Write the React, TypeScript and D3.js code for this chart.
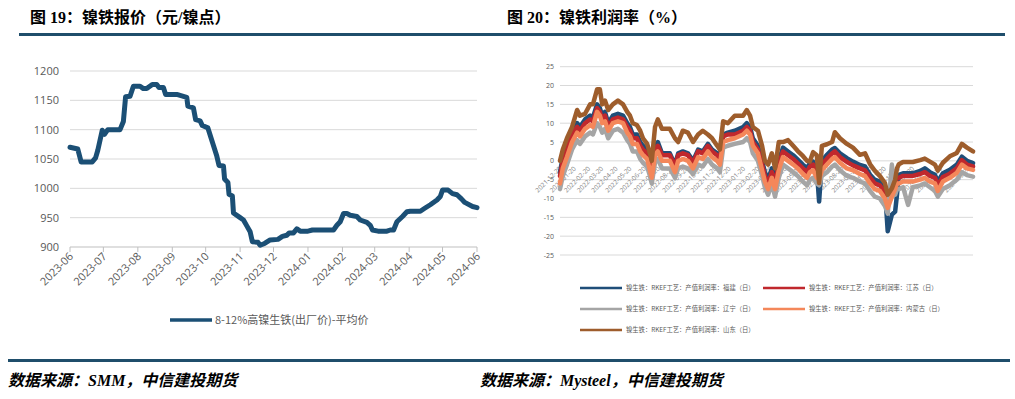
import React from "react";
import * as d3 from "d3";

// ---------- Left chart data: 8-12%高镍生铁(出厂价)-平均价 ----------
const priceDates = [
  "2023-06-01","2023-06-08","2023-06-11","2023-06-21","2023-06-24","2023-06-26","2023-06-30","2023-07-02","2023-07-05","2023-07-16",
  "2023-07-19","2023-07-21","2023-07-25","2023-07-28","2023-08-03","2023-08-06","2023-08-09","2023-08-14","2023-08-18","2023-08-20",
  "2023-08-24","2023-08-26","2023-09-05","2023-09-14","2023-09-15","2023-09-20","2023-09-22","2023-09-26","2023-09-28","2023-10-03",
  "2023-10-08","2023-10-11","2023-10-13","2023-10-17","2023-10-18","2023-10-21","2023-10-22","2023-10-25","2023-10-26","2023-11-01",
  "2023-11-04","2023-11-07","2023-11-10","2023-11-12","2023-11-17","2023-11-19","2023-11-23","2023-11-28","2023-12-05","2023-12-09",
  "2023-12-13","2023-12-15","2023-12-19","2023-12-22","2023-12-25","2024-01-01","2024-01-05","2024-01-24","2024-01-27","2024-01-30",
  "2024-02-02","2024-02-05","2024-02-08","2024-02-14","2024-02-17","2024-02-23","2024-02-26","2024-02-28","2024-03-04","2024-03-12",
  "2024-03-15","2024-03-18","2024-03-21","2024-03-26","2024-03-30","2024-04-02","2024-04-11","2024-04-15","2024-04-20","2024-04-26",
  "2024-04-29","2024-05-01","2024-05-06","2024-05-10","2024-05-14","2024-05-18","2024-05-21","2024-05-28","2024-06-01"
];
const priceValues = [
  1070,1067,1045,1045,1052,1065,1099,1092,1100,1100,
  1114,1156,1157,1174,1174,1170,1170,1177,1177,1172,
  1172,1160,1160,1155,1140,1137,1117,1115,1107,1103,
  1073,1055,1039,1038,1016,1010,990,987,958,950,
  946,936,926,909,908,903,906,912,913,918,
  920,924,924,931,927,927,929,929,937,943,
  957,957,954,952,946,942,937,929,927,927,
  929,929,943,952,960,961,961,966,972,980,
  986,997,997,991,989,982,976,969,967
];
const leftYTicks = [900, 950, 1000, 1050, 1100, 1150, 1200];
const leftXTicks = ["2023-06","2023-07","2023-08","2023-09","2023-10","2023-11","2023-12","2024-01","2024-02","2024-03","2024-04","2024-05","2024-06"];
const leftLegend = "8-12%高镍生铁(出厂价)-平均价";

// ---------- Right chart data: 镍生铁 RKEF工艺 产值利润率 ----------
const profitDates = [
  "2021-12-20","2021-12-26","2022-01-04","2022-01-15","2022-01-26","2022-02-01","2022-02-12","2022-02-23","2022-03-01","2022-03-10",
  "2022-03-16","2022-03-21","2022-03-27","2022-04-03","2022-04-13","2022-04-24","2022-05-05","2022-05-14","2022-05-20","2022-05-26",
  "2022-06-04","2022-06-11","2022-06-17","2022-06-26","2022-07-02","2022-07-06","2022-07-13","2022-07-19","2022-07-28","2022-08-14",
  "2022-08-25","2022-09-01","2022-09-11","2022-09-22","2022-10-03","2022-10-14","2022-10-24","2022-11-04","2022-11-13","2022-11-24",
  "2022-11-30","2022-12-07","2022-12-17","2023-01-01","2023-01-19","2023-01-27","2023-02-03","2023-02-09","2023-02-20","2023-03-01",
  "2023-03-07","2023-03-14","2023-03-22","2023-03-29","2023-04-06","2023-04-15","2023-04-26","2023-05-07","2023-05-17","2023-05-28",
  "2023-06-06","2023-06-12","2023-06-19","2023-06-27","2023-07-02","2023-07-08","2023-07-19","2023-07-30","2023-08-05","2023-08-16",
  "2023-08-31","2023-09-13","2023-09-28","2023-10-09","2023-10-20","2023-10-30","2023-11-10","2023-11-21","2023-11-27","2023-12-06",
  "2023-12-13","2023-12-17","2023-12-21","2023-12-30","2024-01-10","2024-01-20","2024-02-05","2024-02-15","2024-02-26","2024-03-08",
  "2024-03-14","2024-03-25","2024-04-09","2024-04-24","2024-05-05","2024-05-16","2024-05-29"
];
const fujian = [
  -3,1,4,8,10,9,11,12,11.5,15,
  14,12,13,10,12,12.5,12,10,9,7,
  7,5,4,3,0,-2,4,5,2,2,
  -1,2,2.5,2,0,3,2.5,4.5,3,2,
  1,7,7.5,8,9,10,9,6,4,0,
  -3,-5,-2,-5,0,3.5,2.5,1.5,0.3,-1,
  -2,-0.6,-0.2,-2.4,-10.8,0,1.6,3,3.4,2,
  0.7,-0.2,-1.1,-1.5,-3.7,-5,-5.5,-7.3,-18.7,-14.3,
  -13.5,-9,-3.7,-3.3,-3.3,-3.3,-2.7,-2,-3,-3.7,
  -5.5,-3.3,-2.4,-1,1.1,0,-0.6
];
const jiangsu = [
  -4,0,3,7,9,8,10,11,10.5,14,
  13,11,12,9,11,11.5,11,9,8,6,
  6,4,3,2,-1,-3,3,4,1.5,1.5,
  -1.5,1.5,2,1.5,-0.5,2.5,2,4,2.5,1.5,
  0.5,6.5,7,7,8,9,8,5,3,-1,
  -4,-6,-3,-6,-1,2.5,1.5,0.5,-0.7,-2,
  -3,-1.5,-1,-3,-4,-1,0.6,2,2.5,1,
  -0.3,-1.2,-2,-2.5,-4.5,-6,-6.5,-8.5,-11,-8,
  -6,-4.5,-4.5,-4,-4,-4,-3.5,-3,-4,-4.5,
  -6.5,-4.3,-3.4,-2,0.2,-1,-1.5
];
const liaoning = [
  -7.5,-4,-1,3,5.5,4.5,6.5,7.5,7,10,
  9,7.5,8.5,6,8,8.5,7.5,5.5,4.5,2.5,
  2.5,0.5,-0.5,-1.5,-4,-6,-0.5,0.5,-2,-2,
  -4.5,-2,-1.5,-2,-3.5,-1,-1.5,0.5,-1,-2,
  -3,3.5,4,4.5,5,6,5,2,0,-4,
  -7,-9,-6,-9.5,-4.5,-1,-2,-3,-4,-5.5,
  -6.5,-5,-4.5,-6,-6.5,-4,-3,-1.5,-1,-2.5,
  -4,-4.5,-5.5,-6,-8,-9.5,-10,-12,-14,-1,
  -9,-7.5,-7.5,-7,-11.7,-7,-6.5,-6,-7,-8,
  -9.5,-7.5,-6.5,-5,-3,-3.8,-4.2
];
const neimenggu = [
  -6,-2,1,5,7.5,6.5,8.5,9.5,9,13,
  12,10,10.5,8,10,10.5,10,7.5,6.5,4.5,
  4.5,2.5,1.5,0.5,-2.5,-4.5,1.5,2.5,0,0,
  -3,0,0.5,0,-2,1,0.5,2.5,1,0,
  -1,5,5.5,6,7,8,7,4,2,-2.5,
  -5.5,-7.5,-4.5,-7.5,-2.5,1,0,-1,-2,-3.5,
  -4.5,-3,-2.5,-4.5,-5,-2.5,-1,0.5,1,-0.5,
  -2,-2.5,-3.5,-4,-6,-7.5,-8,-10,-12.5,-9.5,
  -7.5,-6,-6,-5.5,-5.5,-5.5,-5,-4.5,-5.5,-6,
  -8,-5.5,-4.5,-3.2,-1,-2,-2.4
];
const shandong = [
  0,3,6,9,13.5,12,12.5,15,15,19,
  19,15,16,13.5,15,16,15,13,12,10,
  9.5,8,6,4.5,2,0,9,11,8.5,8.5,
  6,5,8,7.5,5,7,8,7,6,4,
  3,10.5,10,12,12,13.5,12,9,8,4,
  0,-1,2,-2,5,5,5.5,4,2.6,1.3,
  0,-0.2,2.3,1.5,-5.9,4,4.4,5,7.6,6,
  4.5,3.5,1.6,2,-0.9,-2.6,-4,-5.9,-9,-7.3,
  -5,-2,-0.9,-0.3,-0.3,-0.3,0.2,0.6,-0.2,-1,
  -2.6,-0.5,1.2,2.1,4.5,3.5,2.5
];
const rightYTicks = [25, 20, 15, 10, 5, 0, -5, -10, -15, -20, -25];
const rightXTicks = [
  "2021-12-20","2022-01-20","2022-02-20","2022-03-20","2022-04-20","2022-05-20","2022-06-20","2022-07-20","2022-08-20","2022-09-20",
  "2022-10-20","2022-11-20","2022-12-20","2023-01-20","2023-02-20","2023-03-20","2023-04-20","2023-05-20","2023-06-20","2023-07-20",
  "2023-08-20","2023-09-20","2023-10-20","2023-11-20","2023-12-20","2024-01-20","2024-02-20","2024-03-20","2024-04-20","2024-05-20"
];
const seriesNames = [
  "镍生铁：RKEF工艺：产值利润率：福建（日）",
  "镍生铁：RKEF工艺：产值利润率：江苏（日）",
  "镍生铁：RKEF工艺：产值利润率：辽宁（日）",
  "镍生铁：RKEF工艺：产值利润率：内蒙古（日）",
  "镍生铁：RKEF工艺：产值利润率：山东（日）"
];
const seriesColors = ["#1f4e79", "#c0282d", "#a5a5a5", "#f4875a", "#9e5d2c"];

const parseDay = d3.timeParse("%Y-%m-%d");
const parseMonth = d3.timeParse("%Y-%m");
const labelFont = "'Open Sans', 'Noto Sans CJK SC', sans-serif";
const cjkFont = "'Noto Sans CJK SC', 'Open Sans', sans-serif";
const titleFont = "'Liberation Serif', 'Noto Sans CJK SC', serif";

export default function App() {
  // Left chart scales
  const lx = d3.scaleTime()
    .domain([parseDay("2023-06-01") as Date, parseDay("2024-06-01") as Date])
    .range([70, 477]);
  const ly = d3.scaleLinear().domain([900, 1200]).range([247, 71]);
  const leftPts: [Date, number][] = priceDates.map((d, i) => [parseDay(d) as Date, priceValues[i]]);
  const leftLine = d3.line<[Date, number]>().x(d => lx(d[0])).y(d => ly(d[1]));

  // Right chart scales
  const rx = d3.scaleTime()
    .domain([parseDay("2021-12-20") as Date, parseDay("2024-05-29") as Date])
    .range([560, 973]);
  const ry = d3.scaleLinear().domain([-25, 25]).range([255, 66.7]);
  const rDates = profitDates.map(d => parseDay(d) as Date);
  const rightLine = d3.line<[Date, number]>().x(d => rx(d[0])).y(d => ry(d[1]));
  const allSeries = [fujian, jiangsu, liaoning, neimenggu, shandong];

  const legendPos = [
    { x: 580, y: 288 }, { x: 763, y: 288 },
    { x: 580, y: 309 }, { x: 763, y: 309 },
    { x: 580, y: 330 },
  ];

  return (
    <svg width={1015} height={399} style={{ position: "absolute", left: 0, top: 0, background: "#fff" }}>
      <rect x={0} y={0} width={1015} height={399} fill="#fff" />
      {/* Titles */}
      <text x={30} y={23} fontFamily={titleFont} fontWeight="bold" fontSize={16} fill="#000">图 19：镍铁报价（元/镍点）</text>
      <text x={507} y={23} fontFamily={titleFont} fontWeight="bold" fontSize={16} fill="#000">图 20：镍铁利润率（%）</text>
      <rect x={19} y={33} width={986} height={3} fill="#1f4e6b" />

      {/* ---- Left chart ---- */}
      {leftYTicks.map(v => (
        <g key={"ly" + v}>
          <line x1={70} x2={477} y1={ly(v)} y2={ly(v)} stroke={v === 900 ? "#bfbfbf" : "#d9d9d9"} strokeWidth={1} />
          <text x={59} y={ly(v) + 4} textAnchor="end" fontFamily={labelFont} fontSize={11} fill="#595959">{v}</text>
        </g>
      ))}
      {leftXTicks.map(t => {
        const x = lx(parseMonth(t) as Date);
        return (
          <g key={"lx" + t}>
            <line x1={x} x2={x} y1={247} y2={252} stroke="#bfbfbf" strokeWidth={1} />
            <text transform={`translate(${x + 4},${257}) rotate(-45)`} textAnchor="end" fontFamily={labelFont} fontSize={11} fill="#595959">{t}</text>
          </g>
        );
      })}
      <path d={leftLine(leftPts) || ""} fill="none" stroke="#1b4f75" strokeWidth={5} strokeLinejoin="round" strokeLinecap="round" />
      <line x1={170} x2={212} y1={320} y2={320} stroke="#1b4f75" strokeWidth={3.5} />
      <text x={215} y={324} fontFamily={cjkFont} fontSize={11} fill="#595959">{leftLegend}</text>

      {/* ---- Right chart ---- */}
      {rightYTicks.map(v => (
        <g key={"ry" + v}>
          <line x1={560} x2={973} y1={ry(v)} y2={ry(v)} stroke="#d9d9d9" strokeWidth={1} />
          <text x={554} y={ry(v) + 2.5} textAnchor="end" fontFamily={labelFont} fontSize={7} fill="#595959">{v}</text>
        </g>
      ))}
      {rightXTicks.map(t => {
        const x = rx(parseDay(t) as Date);
        return (
          <text key={"rx" + t} transform={`translate(${x + 2},${169}) rotate(-45)`} textAnchor="end" fontFamily={labelFont} fontSize={6.5} fill="#7f7f7f">{t}</text>
        );
      })}
      {allSeries.map((vals, si) => (
        <path key={"s" + si}
          d={rightLine(rDates.map((d, i) => [d, vals[i]] as [Date, number])) || ""}
          fill="none" stroke={seriesColors[si]} strokeWidth={4.5} strokeLinejoin="round" strokeLinecap="round" />
      ))}
      {seriesNames.map((n, i) => (
        <g key={"lg" + i}>
          <line x1={legendPos[i].x} x2={legendPos[i].x + 42} y1={legendPos[i].y} y2={legendPos[i].y} stroke={seriesColors[i]} strokeWidth={2.5} />
          <text x={legendPos[i].x + 46} y={legendPos[i].y + 2.3} fontFamily={cjkFont} fontSize={6.3} fill="#595959">{n}</text>
        </g>
      ))}

      {/* Footer */}
      <rect x={8} y={359} width={1002} height={3} fill="#1f4e6b" />
      <text x={8} y={386} fontFamily={titleFont} fontWeight="bold" fontStyle="italic" fontSize={16} fill="#000">数据来源：SMM，中信建投期货</text>
      <text x={480} y={386} fontFamily={titleFont} fontWeight="bold" fontStyle="italic" fontSize={16} fill="#000">数据来源：Mysteel，中信建投期货</text>
    </svg>
  );
}
